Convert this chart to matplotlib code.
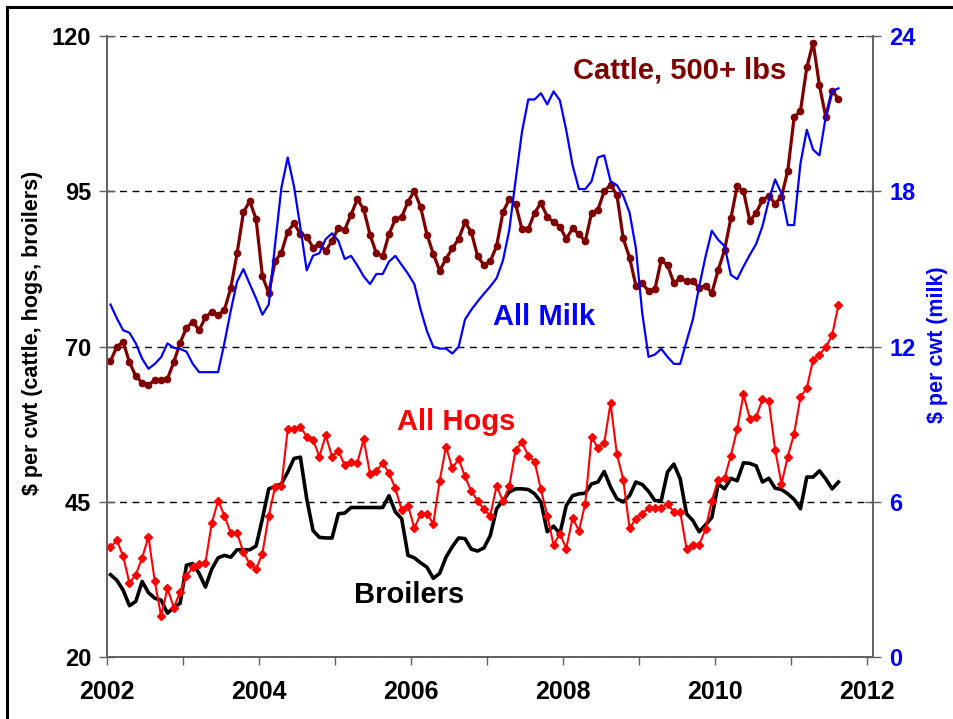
import numpy as np
import matplotlib
matplotlib.use('Agg')
import matplotlib.pyplot as plt
from matplotlib.patches import Rectangle

plt.rcParams['font.family'] = ['Liberation Sans', 'DejaVu Sans']
plt.rcParams['font.weight'] = 'bold'

# monthly values, Jan 2002 .. Aug 2011
cattle = [67.6, 70.0, 70.7, 67.5, 65.2, 64.2, 63.8, 64.6, 64.6, 64.8, 67.5, 70.6,
          73.0, 74.0, 72.6, 74.7, 75.6, 75.0, 75.9, 79.4, 85.0, 91.6, 93.4, 90.5,
          81.3, 78.6, 83.7, 85.1, 88.5, 89.8, 88.1, 87.7, 85.9, 86.5, 85.4, 87.0,
          89.1, 88.8, 91.2, 93.7, 92.1, 88.0, 85.0, 84.5, 88.1, 90.5, 90.8, 93.3,
          95.0, 92.4, 88.0, 84.9, 82.2, 84.1, 85.8, 87.3, 90.0, 88.4, 84.5, 83.1,
          83.7, 86.2, 91.6, 93.7, 92.9, 88.9, 88.9, 91.5, 93.1, 90.9, 90.0, 89.3,
          87.3, 89.0, 88.1, 86.9, 91.5, 92.0, 95.0, 96.0, 94.4, 87.4, 84.3, 79.8,
          80.2, 78.9, 79.2, 83.9, 83.1, 80.2, 81.0, 80.5, 80.6, 79.4, 79.8, 78.6,
          82.3, 85.5, 90.6, 95.8, 95.0, 90.2, 91.5, 93.6, 94.2, 93.0, 94.1, 98.3,
          106.9, 107.9, 114.9, 118.9, 112.0, 106.9, 111.1, 109.9]

milk = [13.62, 13.09, 12.63, 12.53, 12.12, 11.53, 11.14, 11.33, 11.59, 12.12, 11.95, 11.91,
        11.80, 11.33, 11.01, 11.01, 11.01, 11.01, 12.14, 13.38, 14.51, 14.99, 14.41, 13.86,
        13.23, 13.62, 15.94, 18.13, 19.30, 18.17, 16.59, 14.94, 15.51, 15.60, 16.15, 16.37,
        16.08, 15.38, 15.50, 15.13, 14.71, 14.41, 14.80, 14.80, 15.28, 15.50, 15.15, 14.81,
        14.41, 13.42, 12.59, 11.99, 11.92, 11.92, 11.73, 11.99, 13.04, 13.42, 13.74, 14.04,
        14.32, 14.64, 15.32, 16.50, 18.42, 20.28, 21.54, 21.54, 21.78, 21.35, 21.85, 21.50,
        20.35, 19.00, 18.08, 18.08, 18.38, 19.30, 19.38, 18.38, 18.23, 17.82, 17.17, 15.80,
        13.30, 11.60, 11.69, 11.91, 11.60, 11.33, 11.33, 12.20, 13.04, 14.32, 15.47, 16.47,
        16.12, 15.88, 14.77, 14.60, 15.09, 15.54, 15.96, 16.65, 17.65, 18.45, 17.91, 16.69,
        16.69, 19.07, 20.37, 19.60, 19.38, 20.88, 21.86, 21.97]

hogs = [37.7, 38.8, 36.3, 31.9, 33.3, 36.0, 39.4, 32.2, 26.6, 31.1, 28.0, 30.5,
        33.1, 34.5, 35.0, 35.2, 41.6, 45.2, 42.8, 40.0, 40.0, 36.9, 35.0, 34.2,
        36.7, 42.8, 47.4, 47.6, 56.7, 56.8, 57.1, 55.5, 55.0, 52.3, 55.7, 52.3,
        53.2, 50.9, 51.4, 51.3, 55.1, 49.5, 49.9, 51.3, 49.6, 47.2, 43.7, 44.4,
        40.8, 43.0, 43.1, 41.5, 48.4, 53.9, 50.4, 51.9, 49.1, 46.7, 45.2, 43.8,
        42.8, 47.6, 45.1, 47.5, 53.4, 54.6, 52.4, 51.5, 47.0, 42.8, 38.1, 39.9,
        37.5, 42.4, 40.4, 44.7, 55.5, 53.6, 54.5, 60.9, 52.7, 48.6, 40.8, 42.3,
        43.1, 44.0, 44.1, 44.1, 44.7, 43.4, 43.4, 37.5, 38.0, 38.1, 40.6, 45.2,
        48.6, 48.8, 52.4, 56.7, 62.3, 58.4, 58.7, 61.5, 61.2, 53.4, 47.9, 52.3,
        56.0, 61.9, 63.3, 67.9, 68.7, 69.9, 71.8, 76.7]

broilers = [33.3, 32.4, 30.8, 28.3, 29.0, 32.2, 30.4, 29.5, 29.2, 27.1, 28.0, 28.7,
            34.8, 35.1, 33.5, 31.3, 34.2, 36.0, 36.4, 36.1, 37.3, 37.3, 37.3, 37.9,
            42.3, 47.1, 47.5, 47.9, 49.8, 52.0, 52.2, 45.5, 40.4, 39.3, 39.2, 39.2,
            43.1, 43.2, 44.1, 44.1, 44.1, 44.1, 44.1, 44.1, 46.0, 43.4, 42.3, 36.4,
            36.0, 35.2, 34.5, 32.7, 33.5, 36.1, 37.8, 39.2, 39.1, 37.4, 37.1, 37.6,
            39.6, 43.9, 45.2, 46.6, 47.1, 47.1, 47.0, 46.3, 45.0, 40.2, 41.1, 39.9,
            44.4, 46.0, 46.3, 46.4, 47.9, 48.2, 49.9, 47.4, 45.5, 45.0, 46.0, 48.2,
            47.8, 46.7, 45.2, 45.2, 49.8, 51.1, 48.7, 43.1, 42.0, 40.2, 41.3, 42.5,
            47.9, 47.1, 48.8, 48.4, 51.3, 51.2, 50.8, 48.2, 48.8, 47.2, 47.0, 46.3,
            45.4, 43.9, 49.0, 49.0, 50.0, 48.7, 47.1, 48.2]

# mid-month positions in decimal years
t = 2002 + (np.arange(len(cattle)) + 0.5) / 12

left_ticks = [20, 45, 70, 95, 120]
right_ticks = [0, 6, 12, 18, 24]
year_ticks = list(range(2002, 2013))
year_labels = [str(y) if y % 2 == 0 else '' for y in year_ticks]

MAROON = '#800000'
SPINE = '#606060'

fig = plt.figure(figsize=(9.54, 7.19), dpi=100)
ax = fig.add_axes([0.1125, 0.0858, 0.8026, 0.8645])
ax2 = ax.twinx()

ax.plot(t, broilers, color='black', lw=2.6, solid_joinstyle='round', zorder=3)
ax.plot(t, hogs, color='#ff0000', lw=1.5, marker='D', ms=3.6, zorder=4)
ax.plot(t, cattle, color=MAROON, lw=2.3, marker='o', ms=4.5, zorder=5)
ax2.plot(t, milk, color='#0000ff', lw=1.6)

ax.set_xlim(2002, 2012.08)
ax.set_ylim(20, 120)
ax2.set_ylim(0, 24)

ax.set_yticks(left_ticks)
ax2.set_yticks(right_ticks)
ax.set_xticks(year_ticks)
ax.set_xticklabels(year_labels)

ax.grid(axis='y', color='black', linestyle=(0, (5, 4)), lw=1)

for a in (ax, ax2):
    a.spines['top'].set_visible(False)
    for s in ('left', 'right', 'bottom'):
        a.spines[s].set_color(SPINE)
        a.spines[s].set_linewidth(1.2)

ax.tick_params(axis='y', direction='inout', length=11.5, width=1, color=SPINE,
               labelsize=17, pad=6)
ax2.tick_params(axis='y', direction='inout', length=11.5, width=1, color=SPINE,
                labelsize=17, labelcolor='#0000ff', pad=6)
ax.tick_params(axis='x', direction='out', length=6, width=1, color=SPINE,
               labelsize=18, pad=10)
for lbl in ax.get_xticklabels() + ax.get_yticklabels() + ax2.get_yticklabels():
    lbl.set_fontweight('bold')

fig.text(33 / 954, 1 - 333 / 719, '$ per cwt (cattle, hogs, broilers)', rotation=90,
         ha='center', va='center', fontsize=15.5, fontweight='bold')
fig.text(938 / 954, 1 - 345 / 719, '$ per cwt (milk)', rotation=90,
         ha='center', va='center', fontsize=15.5, fontweight='bold', color='#0000ff')

ax.text(2009.54, 113.1, 'Cattle, 500+ lbs', color=MAROON, fontsize=21,
        fontweight='bold', ha='center', va='baseline')
ax.text(2007.75, 73.5, 'All Milk', color='#0000ff', fontsize=21,
        fontweight='bold', ha='center', va='baseline')
ax.text(2006.59, 56.6, 'All Hogs', color='#ff0000', fontsize=21,
        fontweight='bold', ha='center', va='baseline')
ax.text(2005.97, 28.7, 'Broilers', color='black', fontsize=21,
        fontweight='bold', ha='center', va='baseline')

# outer frame of the picture
fig.patches.append(Rectangle((7 / 954, -0.1), 1.2, 1.1 - 7 / 719, fill=False,
                             edgecolor='black', lw=2.2, transform=fig.transFigure))

fig.savefig('out.png', dpi=100)
